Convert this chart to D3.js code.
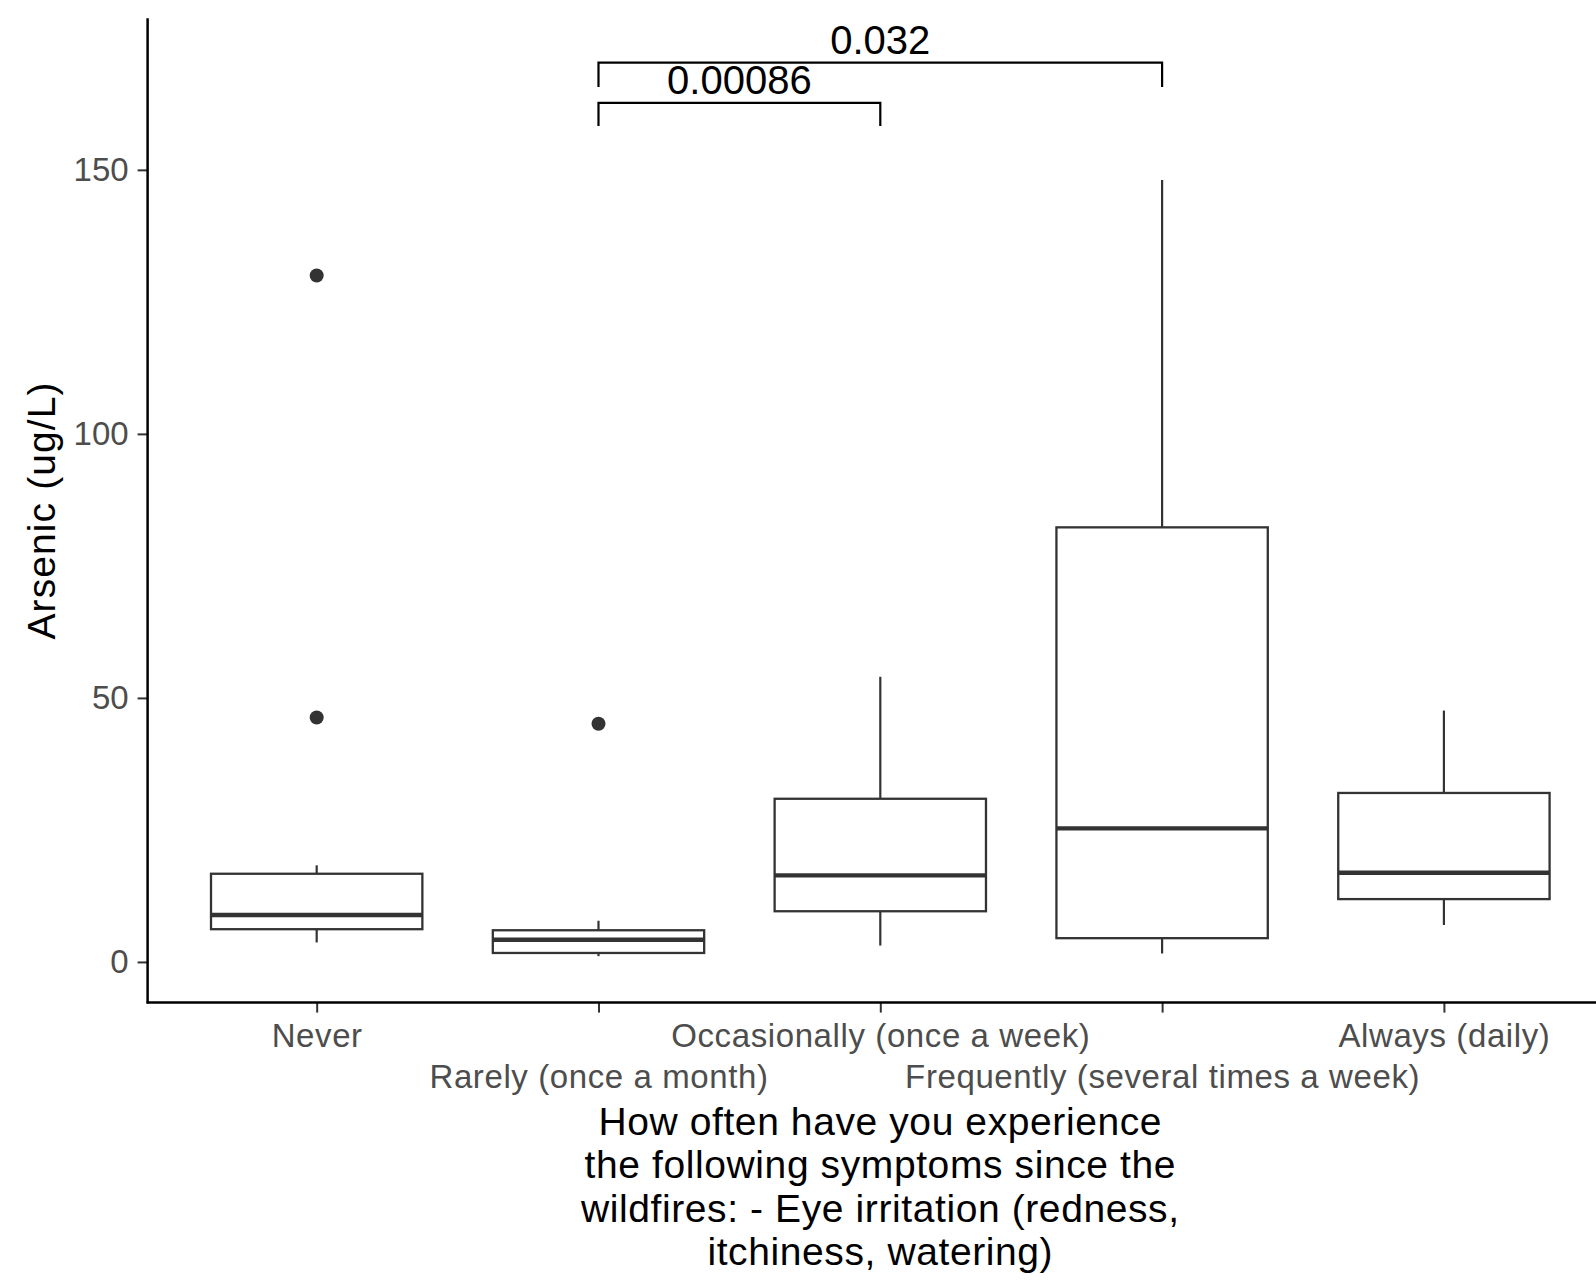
<!DOCTYPE html>
<html><head><meta charset="utf-8">
<script src="https://cdn.jsdelivr.net/npm/d3@7"></script>
<style>body{margin:0;background:#fff} svg{display:block}</style>
</head><body>
<svg id="chart" width="1596" height="1281"></svg>
<script>
// Arsenic concentration by reported frequency of eye irritation
const categories = ["Never", "Rarely (once a month)", "Occasionally (once a week)", "Frequently (several times a week)", "Always (daily)"];
const whiskerLow  = [3.7, 1.1, 3.1, 1.6, 7.0];
const quartile1   = [6.2, 1.7, 9.6, 4.5, 11.9];
const medians     = [8.9, 4.2, 16.4, 25.3, 16.9];
const quartile3   = [16.7, 6.0, 30.9, 82.3, 32.0];
const whiskerHigh = [18.3, 7.8, 54.0, 148.1, 47.6];
const outliers    = [[130.0, 46.3], [45.1], [], [], []];
const yTicks = [0, 50, 100, 150];
const yDomain = [-7.7, 178.7];
// pairwise comparisons (p-values) shown as brackets
const comparisons = [
  {from: "Rarely (once a month)", to: "Occasionally (once a week)", label: "0.00086", y: 162.7, tip: 4.4},
  {from: "Rarely (once a month)", to: "Frequently (several times a week)", label: "0.032", y: 170.3, tip: 4.6}
];
const xTitleLines = ["How often have you experience", "the following symptoms since the", "wildfires: - Eye irritation (redness,", "itchiness, watering)"];
const yTitle = "Arsenic (ug/L)";

const FONT = "'Liberation Sans', Arial, sans-serif";
const svg = d3.select("#chart");
const panel = {left: 147.6, right: 1613, top: 18.3, bottom: 1002.6};

const x = d3.scalePoint().domain(categories).range([panel.left, panel.right]).padding(0.6);
const y = d3.scaleLinear().domain(yDomain).range([panel.bottom, panel.top]);
const boxW = x.step() * 0.75;

const boxes = categories.map((c, i) => ({
  cat: c, lo: whiskerLow[i], q1: quartile1[i], med: medians[i], q3: quartile3[i], hi: whiskerHigh[i], out: outliers[i]
}));

const g = svg.append("g");
const ink = "#333333";

// whiskers
g.selectAll(".wu").data(boxes).join("line")
  .attr("x1", d => x(d.cat)).attr("x2", d => x(d.cat))
  .attr("y1", d => y(d.q3)).attr("y2", d => y(d.hi))
  .attr("stroke", ink).attr("stroke-width", 2.2);
g.selectAll(".wl").data(boxes).join("line")
  .attr("x1", d => x(d.cat)).attr("x2", d => x(d.cat))
  .attr("y1", d => y(d.q1)).attr("y2", d => y(d.lo))
  .attr("stroke", ink).attr("stroke-width", 2.2);

// boxes
g.selectAll(".box").data(boxes).join("rect")
  .attr("x", d => x(d.cat) - boxW / 2).attr("width", boxW)
  .attr("y", d => y(d.q3)).attr("height", d => y(d.q1) - y(d.q3))
  .attr("fill", "#fff").attr("stroke", ink).attr("stroke-width", 2.3);

// medians
g.selectAll(".med").data(boxes).join("line")
  .attr("x1", d => x(d.cat) - boxW / 2).attr("x2", d => x(d.cat) + boxW / 2)
  .attr("y1", d => y(d.med)).attr("y2", d => y(d.med))
  .attr("stroke", ink).attr("stroke-width", 4.4);

// outliers
const outPts = boxes.flatMap(d => d.out.map(v => ({cat: d.cat, v})));
g.selectAll(".out").data(outPts).join("circle")
  .attr("cx", d => x(d.cat)).attr("cy", d => y(d.v)).attr("r", 7)
  .attr("fill", ink);

// comparison brackets
const br = svg.append("g");
comparisons.forEach(c => {
  const x1 = x(c.from), x2 = x(c.to);
  br.append("path")
    .attr("d", `M${x1},${y(c.y - c.tip)}V${y(c.y)}H${x2}V${y(c.y - c.tip)}`)
    .attr("fill", "none").attr("stroke", "#000").attr("stroke-width", 2.2);
  br.append("text")
    .attr("x", (x1 + x2) / 2).attr("y", y(c.y) - 9)
    .attr("text-anchor", "middle")
    .attr("font-family", FONT).attr("font-size", 40).attr("fill", "#000")
    .text(c.label);
});

// y axis
const yAxis = svg.append("g").attr("transform", `translate(${panel.left},0)`)
  .call(d3.axisLeft(y).tickValues(yTicks).tickSize(10).tickPadding(9).tickSizeOuter(0));
yAxis.select(".domain").remove();
yAxis.selectAll(".tick line").attr("stroke", ink).attr("stroke-width", 2);
yAxis.selectAll(".tick text").attr("font-family", FONT).attr("font-size", 33).attr("fill", "#4D4D4D");
svg.append("line").attr("x1", panel.left).attr("x2", panel.left)
  .attr("y1", panel.top).attr("y2", panel.bottom + 1)
  .attr("stroke", "#000").attr("stroke-width", 2.5);

// x axis
const xAxis = svg.append("g").attr("transform", `translate(0,${panel.bottom})`)
  .call(d3.axisBottom(x).tickSize(10).tickSizeOuter(0));
xAxis.select(".domain").remove();
xAxis.selectAll(".tick line").attr("stroke", ink).attr("stroke-width", 2);
xAxis.selectAll(".tick text")
  .attr("font-family", FONT).attr("font-size", 33).attr("fill", "#4D4D4D")
  .attr("letter-spacing", "0.6px")
  .attr("dy", null)
  .attr("y", (d, i) => (i % 2 === 0 ? 44 : 85.5));
svg.append("line").attr("x1", panel.left - 1).attr("x2", 1596)
  .attr("y1", panel.bottom).attr("y2", panel.bottom)
  .attr("stroke", "#000").attr("stroke-width", 2.5);

// axis titles
const midX = x(categories[2]);
svg.append("text").attr("text-anchor", "middle")
  .attr("font-family", FONT).attr("font-size", 39).attr("fill", "#000")
  .attr("letter-spacing", "0.6px")
  .selectAll("tspan").data(xTitleLines).join("tspan")
  .attr("x", midX).attr("y", (d, i) => 1135 + i * 43.4)
  .text(d => d);

svg.append("text")
  .attr("transform", `translate(55,${(panel.top + panel.bottom) / 2}) rotate(-90)`)
  .attr("text-anchor", "middle")
  .attr("font-family", FONT).attr("font-size", 39).attr("fill", "#000")
  .attr("letter-spacing", "1.1px")
  .text(yTitle);
</script>
</body></html>
